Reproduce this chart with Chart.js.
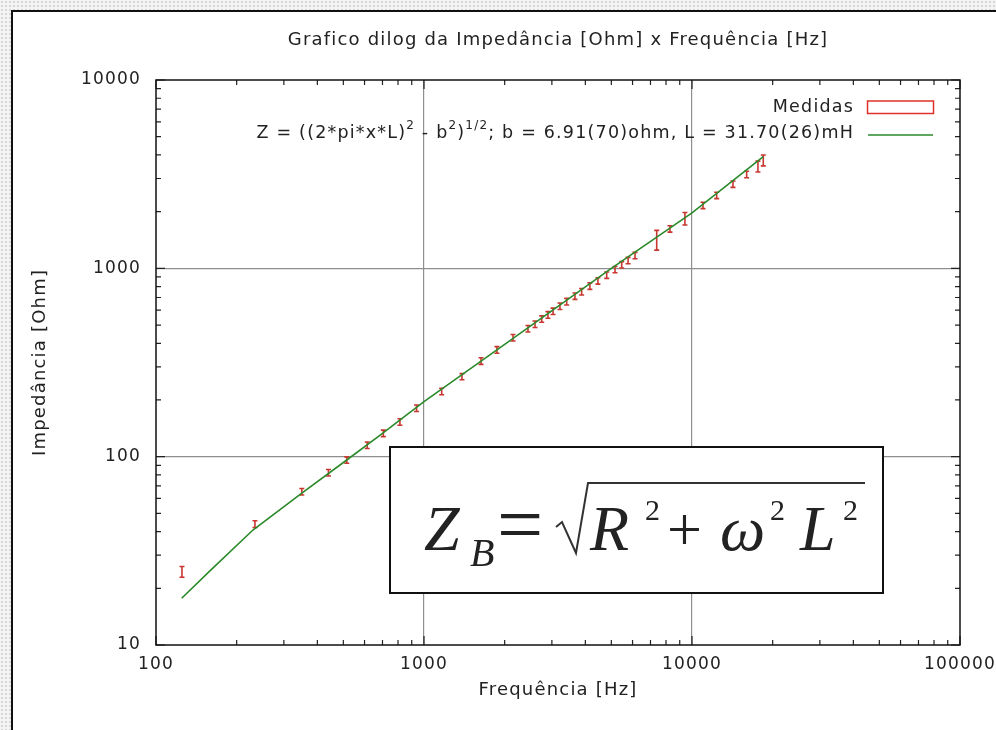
<!DOCTYPE html>
<html>
<head>
<meta charset="utf-8">
<script src="https://cdn.jsdelivr.net/npm/chart.js@4.4.1/dist/chart.umd.min.js"></script>
<style>
html,body{margin:0;padding:0;}
body{width:996px;height:730px;overflow:hidden;
 background-color:#f4f4f4;
 background-image:radial-gradient(#d6d6d6 0.8px, transparent 0.9px);
 background-size:4px 4px;}
#wrap{position:relative;width:996px;height:730px;}
#frame{position:absolute;left:11px;top:10px;width:1000px;height:800px;background:#fff;border-left:2px solid #111;border-top:2px solid #111;}
#c{position:absolute;left:0;top:0;}
</style>
</head>
<body>
<div id="wrap">
<div id="frame"></div>
<canvas id="c" width="996" height="730"></canvas>
</div>
<script>
// ---- data ----
const freqMeas = [125, 234, 350, 440, 515, 614, 705, 813, 938, 1164, 1386, 1632, 1871, 2148, 2443, 2596, 2750, 2901, 3030, 3216, 3407, 3658, 3874, 4159, 4456, 4805, 5161, 5467, 5774, 6129, 7384, 8275, 9410, 10990, 12360, 14220, 15990, 17620, 18450];
const zMeas    = [24.5, 43.9, 65.2, 82.2, 96, 115, 133, 153, 181, 222, 266, 322, 369, 428, 478, 505, 538, 566, 592, 630, 666, 712, 752, 805, 858, 920, 985, 1045, 1100, 1170, 1420, 1620, 1840, 2160, 2440, 2800, 3150, 3480, 3750];
const zErr     = [1.6, 1.8, 2.6, 3.3, 3.8, 4.6, 5.3, 6.1, 7.2, 8.7, 10, 13, 15, 17, 19, 20, 21, 23, 23, 25, 27, 28, 30, 32, 34, 36, 38, 41, 43, 46, 170, 64, 140, 85, 95, 110, 125, 230, 250];
const fitFreq  = [124.7, 160, 230, 350, 515, 700, 1000, 2000, 5000, 10000, 18450];
const fitZ     = [17.7, 25, 40.8, 64, 96, 133, 196, 395, 1000, 1968, 3918];
const xTickValues = [100, 1000, 10000, 100000];
const yTickValues = [10, 100, 1000, 10000];
const chartTitle = 'Grafico dilog da Impedância [Ohm] x Frequência [Hz]';
const xAxisTitle = 'Frequência [Hz]';
const yAxisTitle = 'Impedância [Ohm]';
const measLabel = 'Medidas';
const fitLabelParts = [['Z = ((2*pi*x*L)', 0], ['2', 1], [' - b', 0], ['2', 1], [')', 0], ['1/2', 1], ['; b = 6.91(70)ohm, L = 31.70(26)mH', 0]];

const SANS = '"DejaVu Sans", sans-serif';
const SERIF = '"Liberation Serif", "Times New Roman", serif';

function logTickList(min, max) {
  const t = [];
  for (let d = min; d < max; d *= 10) for (let k = 1; k < 10; k++) t.push({value: d * k});
  t.push({value: max});
  return t;
}
const isDecade = v => Math.abs(Math.log10(v) - Math.round(Math.log10(v))) < 1e-9;

const spacing = {
  id: 'spacing',
  beforeDraw(chart) { chart.ctx.letterSpacing = '1.2px'; },
  afterDraw(chart) { chart.ctx.letterSpacing = '0px'; }
};

const errorBars = {
  id: 'errorBars',
  beforeDatasetsDraw(chart) {
    const {ctx, scales: {x, y}} = chart;
    ctx.save();
    ctx.strokeStyle = '#c8372f';
    ctx.lineWidth = 1.6;
    for (let i = 0; i < freqMeas.length; i++) {
      const px = x.getPixelForValue(freqMeas[i]);
      const lo = y.getPixelForValue(zMeas[i] - zErr[i]);
      const hi = y.getPixelForValue(zMeas[i] + zErr[i]);
      ctx.beginPath();
      ctx.moveTo(px, lo); ctx.lineTo(px, hi);
      ctx.moveTo(px - 2.5, lo); ctx.lineTo(px + 2.5, lo);
      ctx.moveTo(px - 2.5, hi); ctx.lineTo(px + 2.5, hi);
      ctx.stroke();
    }
    ctx.restore();
  }
};

const decor = {
  id: 'decor',
  afterDraw(chart) {
    const {ctx, chartArea: a, scales: {x, y}} = chart;
    ctx.save();
    // inward ticks on all sides
    ctx.strokeStyle = '#222';
    ctx.lineWidth = 1.2;
    ctx.beginPath();
    x.ticks.forEach(t => {
      const px = x.getPixelForValue(t.value);
      const L = isDecade(t.value) ? 9 : 5;
      ctx.moveTo(px, a.bottom); ctx.lineTo(px, a.bottom - L);
      ctx.moveTo(px, a.top); ctx.lineTo(px, a.top + L);
    });
    y.ticks.forEach(t => {
      const py = y.getPixelForValue(t.value);
      const L = isDecade(t.value) ? 9 : 5;
      ctx.moveTo(a.left, py); ctx.lineTo(a.left + L, py);
      ctx.moveTo(a.right, py); ctx.lineTo(a.right - L, py);
    });
    ctx.stroke();
    // border
    ctx.strokeStyle = '#111';
    ctx.lineWidth = 1.5;
    ctx.strokeRect(a.left, a.top, a.right - a.left, a.bottom - a.top);

    // key
    ctx.letterSpacing = '1.2px';
    ctx.fillStyle = '#222';
    ctx.textBaseline = 'middle';
    ctx.textAlign = 'left';
    const normalFont = '17.5px ' + SANS, supFont = '12px ' + SANS;
    ctx.font = normalFont;
    ctx.fillText(measLabel, 854 - ctx.measureText(measLabel).width, 107);
    ctx.strokeStyle = '#e0302a';
    ctx.lineWidth = 1.5;
    ctx.strokeRect(867.5, 101, 66, 12.5);
    // fit label with superscripts
    let total = 0;
    fitLabelParts.forEach(([t, s]) => { ctx.font = s ? supFont : normalFont; total += ctx.measureText(t).width; });
    let cx = 854 - total;
    fitLabelParts.forEach(([t, s]) => {
      ctx.font = s ? supFont : normalFont;
      ctx.fillText(t, cx, s ? 126 : 133);
      cx += ctx.measureText(t).width;
    });
    ctx.letterSpacing = '0px';
    ctx.strokeStyle = '#2a8a2a';
    ctx.lineWidth = 1.5;
    ctx.beginPath(); ctx.moveTo(868, 135); ctx.lineTo(933, 135); ctx.stroke();

    // formula box
    ctx.fillStyle = '#fff';
    ctx.fillRect(390, 447, 493, 146);
    ctx.strokeStyle = '#111';
    ctx.lineWidth = 2;
    ctx.strokeRect(390, 447, 493, 146);
    ctx.fillStyle = '#222';
    ctx.textBaseline = 'alphabetic';
    ctx.textAlign = 'left';
    ctx.font = 'italic 64px ' + SERIF; ctx.fillText('Z', 424, 550);
    ctx.font = 'italic 40px ' + SERIF; ctx.fillText('B', 470, 566);
    ctx.font = '82px ' + SERIF; ctx.fillText('=', 497, 552);
    ctx.font = 'italic 64px ' + SERIF; ctx.fillText('R', 590, 550);
    ctx.font = '30px ' + SERIF; ctx.fillText('2', 645, 520);
    ctx.font = '62px ' + SERIF; ctx.fillText('+', 667, 550);
    ctx.font = 'italic 64px ' + SERIF; ctx.fillText('ω', 720, 550);
    ctx.font = '30px ' + SERIF; ctx.fillText('2', 770, 520);
    ctx.font = 'italic 64px ' + SERIF; ctx.fillText('L', 800, 550);
    ctx.font = '30px ' + SERIF; ctx.fillText('2', 843, 520);
    // radical sign
    ctx.strokeStyle = '#333';
    ctx.lineWidth = 2;
    ctx.beginPath();
    ctx.moveTo(556, 527); ctx.lineTo(562, 522);
    ctx.lineTo(576, 553); ctx.lineTo(588, 483); ctx.lineTo(865, 483);
    ctx.stroke();
    ctx.restore();
  }
};

new Chart(document.getElementById('c'), {
  data: {
    datasets: [
      {type: 'scatter', label: measLabel, data: freqMeas.map((f, i) => ({x: f, y: zMeas[i]})), pointRadius: 0, showLine: false},
      {type: 'line', label: 'fit', data: fitFreq.map((f, i) => ({x: f, y: fitZ[i]})), borderColor: '#2a8a2a', borderWidth: 1.6, pointRadius: 0, tension: 0, fill: false}
    ]
  },
  options: {
    responsive: false,
    animation: false,
    devicePixelRatio: 1,
    layout: {padding: {left: 0, right: 36, top: 0, bottom: 0}},
    plugins: {
      legend: {display: false},
      tooltip: {enabled: false},
      title: {display: true, text: chartTitle, fullSize: false, color: '#222',
        font: {family: SANS, size: 18, weight: 'normal', lineHeight: 1.2},
        padding: {top: 30, bottom: 28.4}}
    },
    scales: {
      x: {
        type: 'logarithmic', position: 'bottom', min: 100, max: 100000,
        afterBuildTicks: s => { s.ticks = logTickList(100, 100000); },
        afterFit: s => { s.height = 85; s.paddingRight = 0; s.paddingLeft = 0; },
        ticks: {autoSkip: false, maxRotation: 0, padding: 9, color: '#222',
          font: {family: SANS, size: 17, lineHeight: 1.2},
          callback: v => xTickValues.includes(v) ? String(v) : ''},
        grid: {drawTicks: false, lineWidth: 1.2,
          color: c => (c.tick && isDecade(c.tick.value) && c.tick.value > 100 && c.tick.value < 100000) ? '#8f8f8f' : 'rgba(0,0,0,0)'},
        border: {display: false},
        title: {display: true, text: xAxisTitle, color: '#222', font: {family: SANS, size: 18, lineHeight: 1.2}, padding: {top: 0, bottom: 29}}
      },
      y: {
        type: 'logarithmic', position: 'left', min: 10, max: 10000,
        afterBuildTicks: s => { s.ticks = logTickList(10, 10000); },
        afterFit: s => { s.width = 156; s.paddingTop = 0; s.paddingBottom = 0; },
        ticks: {autoSkip: false, padding: 15, color: '#222',
          font: {family: SANS, size: 17, lineHeight: 1.2},
          callback: v => yTickValues.includes(v) ? String(v) : ''},
        grid: {drawTicks: false, lineWidth: 1.2,
          color: c => (c.tick && isDecade(c.tick.value) && c.tick.value > 10 && c.tick.value < 10000) ? '#8f8f8f' : 'rgba(0,0,0,0)'},
        border: {display: false},
        title: {display: true, text: yAxisTitle, color: '#222', font: {family: SANS, size: 18, lineHeight: 1.2}, padding: {top: 30, bottom: 0}}
      }
    }
  },
  plugins: [spacing, errorBars, decor]
});
</script>
</body>
</html>
